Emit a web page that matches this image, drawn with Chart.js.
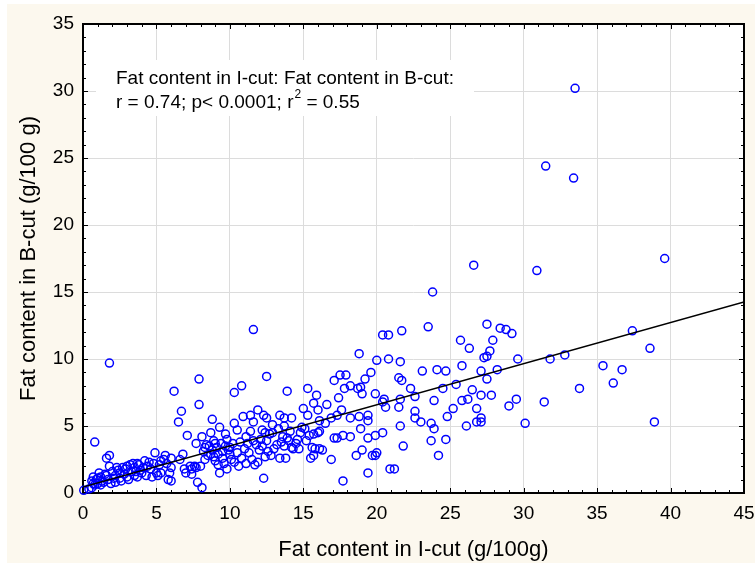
<!DOCTYPE html>
<html>
<head>
<meta charset="utf-8">
<script src="https://cdn.jsdelivr.net/npm/chart.js@4.4.1/dist/chart.umd.min.js"></script>
<style>
    html, body { margin: 0; padding: 0; background: #fff; }
</style>
</head>
<body>
<canvas id="fatChart" width="755" height="566"></canvas>
<script>
// ==============================
// DATA
// ==============================
// x = fat content in I-cut, y = fat content in B-cut (g/100g)
const lowI = [
    0.05, 0.4, 0.6, 0.7, 0.7, 0.8, 1.0, 1.1, 1.2, 1.4,
    1.5, 1.6, 1.7, 1.8, 1.8, 1.9, 2.0, 2.2, 2.2, 2.4,
    2.5, 2.5, 2.7, 2.9, 3.0, 3.2, 3.3, 3.4, 3.5, 3.5,
    3.7, 3.7, 3.8, 4.0, 4.2, 4.3, 4.6, 4.7, 4.9, 5.0,
    5.2, 5.3, 5.3, 5.6, 5.7, 5.8, 5.9, 6.0, 6.0, 6.0,
    0.8, 1.8, 0.9, 1.3, 2.6, 3.1, 4.4, 1.0, 2.8, 3.9,
    5.5, 0.6, 1.2, 1.6, 2.1, 2.3, 3.0, 3.6, 4.1, 4.5,
    4.8, 5.1
];
const lowB = [
    0.2, 0.3, 0.4, 0.7, 1.2, 0.6, 0.7, 1.5, 1.2, 0.8,
    1.4, 2.6, 1.0, 2.8, 2.0, 0.7, 1.6, 0.8, 1.3, 1.7,
    1.1, 1.5, 1.9, 1.8, 1.2, 2.1, 1.6, 2.2, 1.9, 1.3,
    2.2, 1.2, 2.1, 1.5, 2.4, 1.3, 1.8, 1.2, 3.0, 1.5,
    2.1, 1.5, 2.4, 2.8, 2.2, 1.0, 1.5, 0.9, 1.9, 2.6,
    3.8, 9.7, 1.0, 0.9, 0.9, 1.0, 2.0, 1.1, 1.4, 1.7,
    2.5, 0.9, 0.6, 1.3, 1.1, 1.9, 2.0, 1.6, 1.9, 2.3,
    2.2, 1.3
];
const midI = [
    6.2, 6.5, 6.7, 6.6, 6.8, 6.9, 7.0, 7.1, 7.3, 7.4,
    7.4, 7.6, 7.7, 7.7, 7.8, 7.9, 7.9, 8.0, 8.1, 8.1,
    8.2, 8.3, 8.4, 8.6, 8.7, 8.7, 8.8, 8.8, 8.9, 9.0,
    9.1, 9.2, 9.2, 9.3, 9.3, 9.4, 9.5, 9.6, 9.7, 9.7,
    9.8, 9.9, 10.0, 10.1, 10.3, 10.3, 10.3, 10.5, 10.5, 10.7,
    10.8, 10.8, 10.9, 11.0, 11.1, 11.1, 11.3, 11.4, 11.4, 11.5,
    11.6, 11.6, 11.7, 11.8, 11.9, 11.9, 12.0, 12.1, 12.2, 12.2,
    12.3, 12.3, 12.4, 12.4, 12.5, 12.5, 12.5, 12.6, 12.9, 12.9,
    13.0, 13.4, 13.4, 13.5, 13.6, 13.7, 13.7, 13.7, 13.8, 13.9,
    13.9, 14.0, 14.2, 14.2, 14.3, 14.6, 14.7, 14.8, 14.9, 15.0,
    15.3, 15.3, 15.4, 15.5, 15.6, 15.7, 15.7, 15.7, 15.8, 15.9,
    16.0, 16.0, 16.1, 16.1, 16.1, 16.5, 16.6, 16.9, 16.9, 17.1,
    17.1, 17.3, 17.3, 17.4, 17.5, 17.6, 17.7, 17.7, 17.8, 17.9,
    18.2, 18.2, 18.2, 18.6, 18.7, 18.8, 18.8, 18.9, 18.9, 19.0,
    19.0, 19.2, 19.4, 19.4, 19.4, 19.4, 19.6, 19.7, 19.9, 19.9,
    19.9, 20.0, 20.0, 20.4, 20.4, 20.4, 20.5, 20.6, 20.8, 20.8,
    20.9, 21.2, 21.5, 21.5, 21.6, 21.6, 21.6, 21.7, 21.7, 21.8,
    22.3, 22.6, 22.6, 22.6, 23.0, 23.1, 23.5, 23.7, 23.7, 23.8,
    23.9, 23.9, 24.1, 24.2, 24.5, 24.7, 24.7, 24.8, 25.2, 25.4,
    25.7, 25.8, 25.8, 26.1, 26.2, 26.3, 26.5, 26.6, 26.8, 26.8,
    27.1, 27.1, 27.1, 27.1, 27.3, 27.5, 27.5, 27.5, 27.7, 27.8,
    27.9, 28.2, 28.4, 28.8, 29.0, 29.2, 29.5, 29.6, 30.1, 30.9,
    31.4, 31.5, 31.8, 32.8, 33.4, 33.5, 33.8, 35.4, 36.1, 36.7,
    37.4, 38.6, 38.9, 39.6
];
const midB = [
    7.6, 5.3, 6.1, 2.5, 2.9, 1.8, 1.5, 4.3, 2.0, 1.8,
    1.4, 2.0, 3.7, 1.9, 0.8, 8.5, 6.6, 2.0, 0.4, 4.2,
    3.1, 3.4, 3.6, 3.5, 4.5, 2.9, 5.5, 3.2, 2.7, 3.7,
    3.4, 2.9, 2.1, 4.9, 1.5, 3.7, 2.6, 2.2, 4.4, 3.5,
    1.8, 3.2, 3.4, 2.5, 5.2, 7.5, 2.3, 4.7, 3.0, 3.8,
    8.0, 2.6, 5.7, 3.3, 4.2, 2.2, 3.0, 4.6, 5.8, 2.5,
    5.3, 12.2, 2.1, 3.6, 6.2, 2.3, 3.2, 4.0, 4.7, 3.5,
    5.8, 1.1, 4.5, 2.7, 8.7, 5.6, 3.9, 3.1, 5.1, 4.5,
    3.3, 5.8, 2.6, 3.8, 4.2, 5.6, 5.0, 3.5, 2.6, 7.6,
    4.1, 3.9, 5.6, 3.4, 3.3, 4.0, 3.3, 4.5, 4.9, 6.3,
    5.8, 7.8, 4.3, 2.6, 3.4, 6.7, 4.4, 2.8, 3.3, 7.3,
    4.5, 6.2, 5.4, 4.6, 3.3, 5.2, 6.6, 2.5, 5.6, 8.4,
    4.1, 4.1, 5.8, 7.1, 8.8, 6.2, 4.3, 0.9, 7.8, 8.8,
    8.0, 5.6, 4.2, 2.8, 7.8, 10.4, 5.7, 4.8, 7.9, 7.4,
    3.2, 8.5, 5.8, 5.4, 4.1, 1.5, 9.0, 2.8, 7.4, 4.3,
    2.8, 9.9, 3.0, 11.8, 6.8, 4.5, 7.0, 6.4, 11.8, 10.0,
    1.8, 1.8, 8.6, 6.4, 9.8, 7.0, 5.0, 12.1, 8.4, 3.5,
    7.8, 7.2, 6.1, 5.6, 5.3, 9.1, 12.4, 5.2, 3.9, 15.0,
    6.9, 4.8, 9.2, 2.8, 7.8, 9.1, 4.0, 5.7, 6.3, 8.1,
    11.4, 9.5, 6.9, 5.0, 7.0, 10.8, 7.7, 17.0, 6.3, 5.3,
    9.1, 7.3, 5.6, 5.3, 10.1, 10.2, 12.6, 8.5, 10.6, 7.3,
    11.4, 9.2, 12.3, 12.2, 6.5, 11.9, 7.0, 10.0, 5.2, 16.6,
    6.8, 24.4, 10.0, 10.3, 23.5, 30.2, 7.8, 9.5, 8.2, 9.2,
    12.1, 10.8, 5.3, 17.5
];
const extraI = [
    8.5, 8.9, 9.0, 9.5, 9.8, 10.2, 10.6, 11.2, 12.7, 13.2,
    14.1, 14.5, 15.1, 15.2, 16.3, 10.0, 11.6, 12.8, 13.3, 8.3
];
const extraB = [
    2.8, 3.9, 2.4, 3.1, 4.0, 3.7, 2.0, 3.7, 4.4, 3.6,
    4.6, 3.7, 4.8, 3.9, 3.2, 2.9, 3.9, 2.8, 4.8, 2.5
];

// regression line ends
const fitI = [0, 45];
const fitB = [0.45, 14.25];

// axis ticks
const xTickVals = [0, 5, 10, 15, 20, 25, 30, 35, 40, 45];
const yTickVals = [0, 5, 10, 15, 20, 25, 30, 35];

const fatI = lowI.concat(midI, extraI);
const fatB = lowB.concat(midB, extraB);
const points = fatI.map((x, i) => ({ x: x, y: fatB[i] }));
const fitPoints = fitI.map((x, i) => ({ x: x, y: fitB[i] }));

const FONT = "'Liberation Sans', Arial, sans-serif";

// ==============================
// background, frame, ticks, note
// ==============================
const decorPlugin = {
    id: "decor",
    beforeDraw(chart) {
        const { ctx, chartArea: a } = chart;
        ctx.save();
        ctx.fillStyle = "#ffffff";
        ctx.fillRect(0, 0, chart.width, chart.height);
        ctx.fillStyle = "#fcf8ee";
        ctx.fillRect(7, 4, chart.width - 7, 559);
        ctx.fillStyle = "#ffffff";
        ctx.fillRect(a.left, a.top, a.right - a.left, a.bottom - a.top);
        ctx.restore();
    },
    beforeDatasetsDraw(chart) {
        const { ctx, chartArea: a, scales } = chart;
        ctx.save();
        // white box behind the note
        ctx.fillStyle = "#ffffff";
        ctx.fillRect(96, 60, 378, 56);

        // note text
        ctx.fillStyle = "#000";
        ctx.textBaseline = "alphabetic";
        ctx.font = "19px " + FONT;
        ctx.fillText("Fat content in I-cut: Fat content in B-cut:", 116, 84);
        const part1 = "r = 0.74; p< 0.0001; r";
        ctx.fillText(part1, 116, 108);
        let w = ctx.measureText(part1).width;
        ctx.font = "12px " + FONT;
        ctx.fillText("2", 116 + w + 1, 98);
        const w2 = ctx.measureText("2").width;
        ctx.font = "19px " + FONT;
        ctx.fillText(" = 0.55", 116 + w + w2 + 1, 108);

        // frame
        ctx.strokeStyle = "#000";
        ctx.lineWidth = 2;
        ctx.strokeRect(a.left, a.top, a.right - a.left, a.bottom - a.top);

        // inward ticks, every 1 unit
        ctx.lineWidth = 1;
        ctx.beginPath();
        for (let v = 0; v <= 45; v++) {
            const len = v % 5 === 0 ? 5 : 3;
            const x = Math.round(scales.x.getPixelForValue(v)) + 0.5;
            ctx.moveTo(x, a.bottom);
            ctx.lineTo(x, a.bottom - len);
            ctx.moveTo(x, a.top);
            ctx.lineTo(x, a.top + len);
        }
        for (let v = 0; v <= 35; v++) {
            const len = v % 5 === 0 ? 5 : 3;
            const y = Math.round(scales.y.getPixelForValue(v)) + 0.5;
            ctx.moveTo(a.left, y);
            ctx.lineTo(a.left + len, y);
            ctx.moveTo(a.right, y);
            ctx.lineTo(a.right - len, y);
        }
        ctx.stroke();
        ctx.restore();
    },
};

// ==============================
// CHART
// ==============================
new Chart(document.getElementById("fatChart"), {
    type: "scatter",
    data: {
        datasets: [
            {
                type: "line",
                data: fitPoints,
                borderColor: "#000",
                borderWidth: 1.5,
                pointRadius: 0,
                fill: false,
                order: 0,
            },
            {
                data: points,
                pointStyle: "circle",
                pointRadius: 4,
                pointBorderWidth: 1.5,
                pointBorderColor: "#0000ff",
                pointBackgroundColor: "rgba(0,0,0,0)",
                clip: false,
                order: 1,
            },
        ],
    },
    options: {
        responsive: false,
        animation: false,
        layout: { padding: { left: 0, right: 11, top: 24, bottom: 0 } },
        plugins: { legend: { display: false }, tooltip: { enabled: false } },
        scales: {
            x: {
                type: "linear",
                min: 0,
                max: 45,
                afterBuildTicks: (s) => { s.ticks = xTickVals.map((v) => ({ value: v })); },
                afterFit: (s) => {
                    s.height = 73;
                    s.paddingLeft = 0;
                    s.paddingRight = 0;
                },
                grid: { color: "#dcdcdc", drawTicks: false },
                border: { display: false },
                ticks: { color: "#000", padding: 9, font: { family: FONT, size: 19 } },
                title: {
                    display: true,
                    text: "Fat content in I-cut (g/100g)",
                    color: "#000",
                    font: { family: FONT, size: 22 },
                    padding: { top: 0, bottom: 3 },
                },
            },
            y: {
                type: "linear",
                min: 0,
                max: 35,
                afterBuildTicks: (s) => { s.ticks = yTickVals.map((v) => ({ value: v })); },
                afterFit: (s) => {
                    s.width = 83;
                    s.paddingTop = 0;
                    s.paddingBottom = 0;
                },
                grid: { color: "#dcdcdc", drawTicks: false },
                border: { display: false },
                ticks: { color: "#000", padding: 9, font: { family: FONT, size: 19 } },
                title: {
                    display: true,
                    text: "Fat content in B-cut (g/100 g)",
                    color: "#000",
                    font: { family: FONT, size: 22 },
                    padding: { top: 16, bottom: 0 },
                },
            },
        },
    },
    plugins: [decorPlugin],
});
</script>
</body>
</html>
